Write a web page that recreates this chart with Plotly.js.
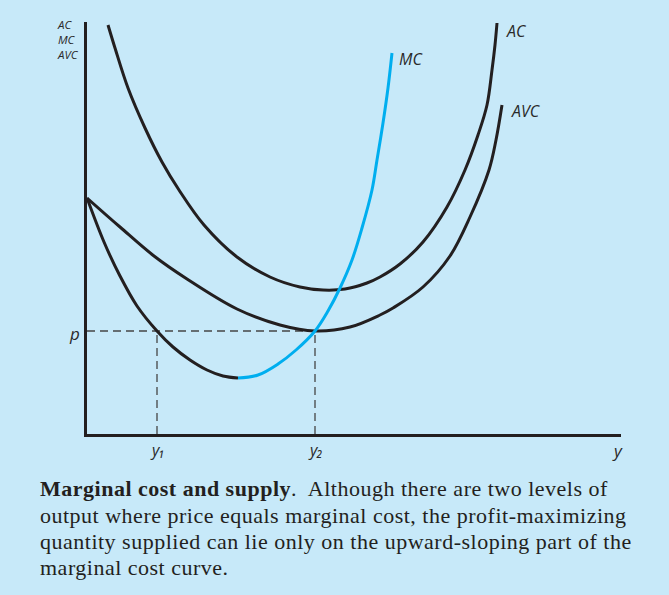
<!DOCTYPE html>
<html><head><meta charset="utf-8">
<script src="https://cdn.plot.ly/plotly-3.0.1.min.js"></script>
<style>
html,body{margin:0;padding:0;background:#c7e9f9;}
#chart{width:669px;height:595px;}
text.annotation-text[style*="Liberation Serif"]{letter-spacing:0.5px;}
</style>
</head><body><div id="chart"></div>
<script>
// ----- data (arbitrary cost / output units) -----
const priceLevel = 103;          // p
const outputLevels = [70, 228];  // y1, y2
const outputLabels = ['y\u2081', 'y\u2082'];

// MC, falling part (black)
const mcFallX = [0, 17, 33, 50, 70, 86, 103, 120, 136, 151];
const mcFallY = [236, 192, 158, 128, 103, 87, 74, 64, 58, 56];
// MC, rising part (blue)
const mcRiseX = [151, 171, 191, 209, 228, 241, 253, 265, 275, 285, 290, 296, 301, 305];
const mcRiseY = [56, 59, 70, 84, 103, 123, 146, 174, 206, 244, 274, 311, 346, 381];
// AVC
const avcX = [0, 33, 67, 100, 150, 193, 228, 263, 293, 306, 336, 363, 383, 402, 409, 415];
const avcY = [236, 207, 178, 155, 125, 109, 103, 107, 119, 126, 147, 178, 217, 264, 294, 329];
// AC
const acX = [21, 28, 41, 58, 75, 92, 117, 150, 183, 213, 236, 258, 280, 293, 313, 336, 360, 378, 391, 400, 405, 408, 410];
const acY = [409, 386, 346, 306, 272, 244, 209, 177, 157, 147, 144, 145, 151, 157, 170, 192, 227, 264, 299, 329, 364, 389, 411];

const axisCaption = ['AC', 'MC', 'AVC'];
const captionLines = [
  '<b>Marginal cost and supply</b>.&nbsp; Although there are two levels of',
  'output where price equals marginal cost, the profit-maximizing',
  'quantity supplied can lie only on the upward-sloping part of the',
  'marginal cost curve.'
];

// ----- geometry / styles -----
const L = 87, T = 22, W = 534, H = 412;
const BG = '#c7e9f9', INK = '#231f20', BLUE = '#00aeef';
const px = v => (v - L) / W;
const py = v => (T + H - v) / H;

const dash = {color: '#454545', width: 1.3, dash: '8px,5px'};
const curve = c => ({color: c, width: 3, shape: 'spline', smoothing: 1});
const traces = [
  {x: [0, outputLevels[1]], y: [priceLevel, priceLevel], mode: 'lines', line: dash},
  {x: [outputLevels[0], outputLevels[0]], y: [0, priceLevel], mode: 'lines', line: dash},
  {x: [outputLevels[1], outputLevels[1]], y: [0, priceLevel], mode: 'lines', line: dash},
  {x: acX, y: acY, mode: 'lines', line: curve(INK)},
  {x: avcX, y: avcY, mode: 'lines', line: curve(INK)},
  {x: mcFallX, y: mcFallY, mode: 'lines', line: curve(INK)},
  {x: mcRiseX, y: mcRiseY, mode: 'lines', line: curve(BLUE)}
];

const lab = {family: 'Open Sans, DejaVu Sans, sans-serif', color: '#2a2a2a', style: 'italic'};
const ann = [];
function addPaper(text, x, y, xanchor, size, font, extra) {
  ann.push(Object.assign({text, xref: 'paper', yref: 'paper', x: px(x), y: py(y), xanchor, yanchor: 'middle',
    showarrow: false, font: Object.assign({}, font || lab, {size})}, extra || {}));
}
addPaper(axisCaption.join('<br>'), 55, 40, 'left', 11.5, null, {align: 'left'});
addPaper('AC', 504, 31, 'left', 16);
addPaper('MC', 397, 59, 'left', 16);
addPaper('AVC', 509, 111, 'left', 16);
addPaper('y', 617, 450, 'center', 17);
ann.push({text: 'p', xref: 'paper', yref: 'y', x: px(82), y: priceLevel, xanchor: 'right', yanchor: 'middle',
  yshift: -2, showarrow: false, font: Object.assign({}, lab, {size: 17})});
outputLevels.forEach((v, i) => ann.push({text: outputLabels[i], xref: 'x', yref: 'paper', x: v, y: py(450),
  xanchor: 'center', yanchor: 'middle', showarrow: false, font: Object.assign({}, lab, {size: 16})}));
const cap = {family: 'Liberation Serif, Times New Roman, serif', color: INK};
const capY = [488, 515, 541, 567];
captionLines.forEach((t, i) => addPaper(t, 38, capY[i], 'left', 22, cap));

const layout = {
  width: 669, height: 595,
  margin: {l: L, r: 669 - L - W, t: T, b: 595 - T - H, pad: 0},
  paper_bgcolor: BG, plot_bgcolor: BG,
  showlegend: false,
  xaxis: {range: [0, W], showgrid: false, zeroline: false, showticklabels: false, ticks: '',
    showline: true, linecolor: INK, linewidth: 2.6, fixedrange: true},
  yaxis: {range: [0, H], showgrid: false, zeroline: false, showticklabels: false, ticks: '',
    showline: true, linecolor: INK, linewidth: 2.6, fixedrange: true},
  annotations: ann
};
Plotly.newPlot('chart', traces, layout, {displayModeBar: false, staticPlot: true});
</script></body></html>
